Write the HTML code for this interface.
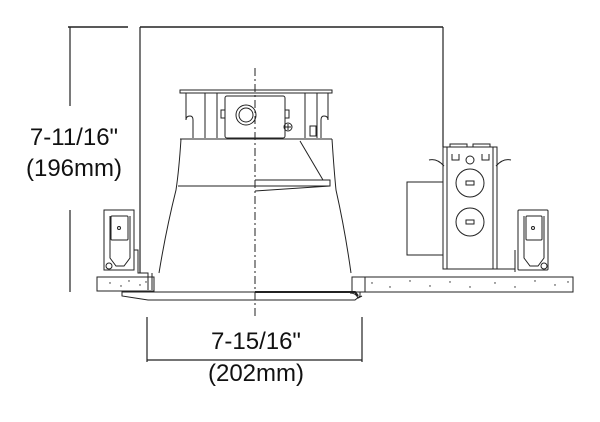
<!DOCTYPE html>
<html><head><style>
body{margin:0;background:#fff;}
svg{display:block;}
text{font-family:"Liberation Sans",Arial,sans-serif;fill:#111;}
</style></head><body>
<svg width="600" height="422" viewBox="0 0 600 422" xmlns="http://www.w3.org/2000/svg" fill="none" stroke="#222" stroke-width="1">
<line x1="68" y1="27" x2="128" y2="27" stroke-width="1.5"/>
<line x1="140" y1="27" x2="443" y2="27" stroke-width="1.5"/>
<line x1="140" y1="27" x2="140" y2="273" stroke-width="1.2"/>
<line x1="443" y1="27" x2="443" y2="147" stroke-width="1.2"/>
<line x1="70" y1="27" x2="70" y2="106" stroke-width="1.2"/>
<line x1="70" y1="210" x2="70" y2="292" stroke-width="1.2"/>
<text x="74" y="145" font-size="24" text-anchor="middle" stroke="none">7-11/16"</text>
<text x="74" y="176" font-size="24" text-anchor="middle" stroke="none">(196mm)</text>
<line x1="255" y1="68" x2="255" y2="318" stroke-dasharray="8,3,2,3"/>
<rect x="180" y="90" width="152" height="3"/>
<path d="M186 93 V120 Q186 116 190 116 Q193 116 193 120 V138 M205 93 V138 M217 93 V138 M317 93 V138 M305 93 V138 M328 93 V120 Q328 116 324 116 Q321 116 321 120 V138"/>
<rect x="225" y="96" width="60" height="42" rx="2"/>
<path d="M225 110 h-4 v8 h4 M285 110 h4 v8 h-4"/>
<circle cx="246" cy="115" r="10"/>
<circle cx="246" cy="115" r="7"/>
<circle cx="288" cy="127" r="4"/>
<path d="M285 127 h6 M288 124 v6"/>
<rect x="310" y="126" width="6" height="10"/>
<path d="M180 139 H332"/>
<path d="M181 139 Q179 170 176 190 Q166 230 159 273"/>
<path d="M332 139 Q334 170 336 190 Q345 230 351 273"/>
<path d="M178 186 H255 M255 180 H330 V186 H255 M300 141 L323 180 M255 191 L330 186"/>
<path d="M104 210 H134 V270 H104 Z"/>
<path d="M110 216 V258 L116 266 L124 266 L130 258 V216"/>
<rect x="111" y="216" width="17" height="24" rx="1"/>
<circle cx="119" cy="228" r="1.5"/>
<circle cx="109" cy="266" r="3"/>
<path d="M134 250 H138 V273 H148 V290 M152 273 V290"/>
<rect x="97" y="277" width="57" height="14"/>
<rect x="352" y="277" width="221" height="15"/>
<line x1="365" y1="277" x2="365" y2="292"/>
<path d="M122 292 H360 L360 296 L355 300 H148 L122 296 Z"/>
<path d="M255 292 H355 L358 296" stroke-width="2"/>
<path d="M350 293 q6 0 8 5 l4 -2"/>
<rect x="407" y="182" width="36" height="73"/>
<rect x="443" y="147" width="54" height="122"/>
<path d="M447 147 V269 M493 147 V269"/>
<path d="M450 147 v-3 h17 v3 M473 147 v-3 h17 v3"/>
<path d="M452 154 v6 h7 v-6 M482 154 v6 h7 v-6"/>
<circle cx="470" cy="160" r="4"/>
<circle cx="470" cy="183" r="14"/>
<circle cx="470" cy="222" r="14"/>
<rect x="466" y="181" width="8" height="4"/>
<rect x="466" y="220" width="8" height="4"/>
<path d="M429 160 Q437 158 444 166 M511 160 Q503 158 496 166"/>
<path d="M443 269 H515 M515 250 V272"/>
<rect x="518" y="210" width="30" height="60" rx="1"/>
<path d="M524 216 V258 L530 266 L538 266 L544 258 V216"/>
<rect x="526" y="216" width="16" height="24" rx="1"/>
<circle cx="533" cy="228" r="1.5"/>
<circle cx="544" cy="266" r="3"/>
<g fill="#222" stroke="none">
<circle cx="110" cy="283" r=".7"/><circle cx="121" cy="286" r=".7"/><circle cx="129" cy="281" r=".7"/><circle cx="140" cy="285" r=".7"/><circle cx="146" cy="282" r=".7"/>
<circle cx="372" cy="283" r=".7"/><circle cx="390" cy="287" r=".7"/><circle cx="410" cy="281" r=".7"/><circle cx="430" cy="286" r=".7"/><circle cx="450" cy="282" r=".7"/><circle cx="470" cy="287" r=".7"/><circle cx="495" cy="283" r=".7"/><circle cx="515" cy="287" r=".7"/><circle cx="535" cy="281" r=".7"/><circle cx="555" cy="285" r=".7"/><circle cx="568" cy="282" r=".7"/>
</g>
<line x1="147" y1="317" x2="147" y2="362" stroke-width="1.2"/>
<line x1="362" y1="317" x2="362" y2="362" stroke-width="1.2"/>
<line x1="147" y1="360" x2="362" y2="360" stroke-width="1.2"/>
<text x="256" y="349" font-size="24" text-anchor="middle" stroke="none">7-15/16"</text>
<text x="256" y="381" font-size="24" text-anchor="middle" stroke="none">(202mm)</text>
</svg>
</body></html>
